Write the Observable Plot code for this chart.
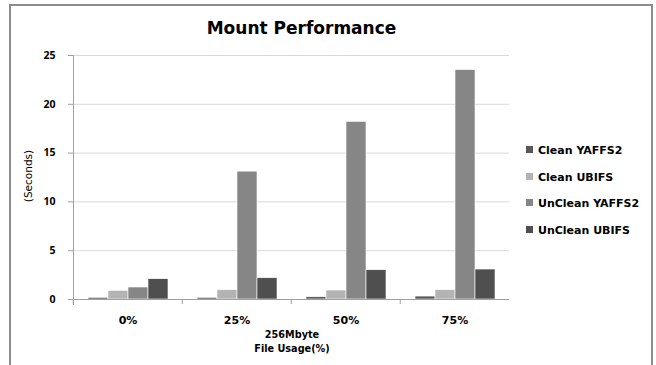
<!DOCTYPE html>
<html>
<head>
<meta charset="utf-8">
<script src="https://cdn.jsdelivr.net/npm/d3@7"></script>
<script src="https://cdn.jsdelivr.net/npm/@observablehq/plot@0.6"></script>
<style>
  html, body { margin: 0; padding: 0; background: #fff; }
  #wrap { position: relative; width: 656px; height: 365px; overflow: hidden; font-family: "DejaVu Sans", sans-serif; }
  #border { position: absolute; left: 9px; top: 4px; width: 640px; height: 400px; border: 2px solid #8c8c8c; border-bottom: none; }
  #chart { position: absolute; left: 0; top: 0; }
  #title { position: absolute; left: 0; width: 603px; top: 18px; text-align: center; font-weight: bold; font-size: 17px; color: #000; }
  #ylabel { position: absolute; left: 28px; top: 176px; transform: translate(-50%, -50%) rotate(-90deg); font-size: 10.5px; white-space: nowrap; color: #000; }
  #xlabel { position: absolute; left: 192px; width: 200px; top: 328px; text-align: center; font-weight: bold; font-size: 9.7px; line-height: 14px; color: #000; }
  #legend { position: absolute; left: 526px; top: 143px; font-size: 11px; font-weight: bold; color: #000; }
  .item { position: relative; height: 26.6px; line-height: 16px; white-space: nowrap; }
  .sw { display: inline-block; width: 7px; height: 7px; margin-right: 5px; vertical-align: 1px; }
</style>
</head>
<body>
<div id="wrap">
  <div id="border"></div>
  <div id="chart"></div>
  <div id="title">Mount Performance</div>
  <div id="ylabel">(Seconds)</div>
  <div id="xlabel">256Mbyte<br>File Usage(%)</div>
  <div id="legend"></div>
</div>
<script>
const categories = ["0%", "25%", "50%", "75%"];
const series = ["Clean YAFFS2", "Clean UBIFS", "UnClean YAFFS2", "UnClean UBIFS"];
const cleanYaffs2 = [0.17, 0.17, 0.23, 0.3];
const cleanUbifs = [0.89, 0.95, 0.92, 0.95];
const uncleanYaffs2 = [1.23, 13.1, 18.2, 23.5];
const uncleanUbifs = [2.08, 2.18, 3.0, 3.07];
const yTicks = [0, 5, 10, 15, 20, 25];
const colors = ["#575757", "#b3b3b3", "#868686", "#4f4f4f"];

const seriesValues = [cleanYaffs2, cleanUbifs, uncleanYaffs2, uncleanUbifs];
const data = [];
categories.forEach((c, i) => series.forEach((s, j) => data.push({cat: c, series: s, value: seriesValues[j][i]})));

const W = 656, H = 365, mL = 72, mR = 146, mT = 55, mB = 66;
const bandW = (W - mL - mR) / categories.length;
const axisColor = "#a0a0a0";

const chart = Plot.plot({
  width: W, height: H,
  marginLeft: mL, marginRight: mR, marginTop: mT, marginBottom: mB,
  style: {fontFamily: "'DejaVu Sans', sans-serif", color: "#000", background: "transparent"},
  fx: {domain: categories, padding: 0, label: null},
  x: {domain: series, paddingInner: 0, paddingOuter: 0.725, axis: null},
  y: {domain: [0, 25], label: null},
  color: {domain: series, range: colors},
  marks: [
    Plot.gridY(yTicks, {stroke: "#d9d9d9", strokeOpacity: 1}),
    Plot.barY(data, {fx: "cat", x: "series", y: "value", fill: "series", stroke: "#fff", strokeWidth: 0.6}),
    Plot.ruleY([0], {stroke: axisColor}),
    Plot.frame({anchor: "left", stroke: axisColor, facetAnchor: "left", insetBottom: -5}),
    Plot.axisY(yTicks, {tickSize: 5, tickPadding: 13, stroke: axisColor, fontWeight: "bold", fontSize: 10.5, fontFamily: "'Open Sans', sans-serif", label: null}),
    Plot.axisFx({anchor: "bottom", tickSize: 5, dx: -bandW / 2, stroke: axisColor, tickFormat: () => "", label: null}),
    Plot.axisFx({anchor: "bottom", tickSize: 0, tickPadding: 17, fontWeight: "bold", fontSize: 11, label: null})
  ]
});
document.getElementById("chart").appendChild(chart);

const legend = document.getElementById("legend");
series.forEach((s, j) => {
  const item = document.createElement("div");
  item.className = "item";
  const sw = document.createElement("span");
  sw.className = "sw";
  sw.style.background = colors[j];
  item.appendChild(sw);
  item.appendChild(document.createTextNode(s));
  legend.appendChild(item);
});
</script>
</body>
</html>
